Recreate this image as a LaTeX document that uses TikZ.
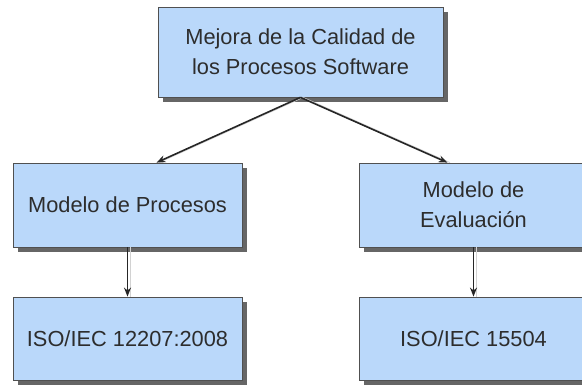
\documentclass[tikz,border=0pt]{standalone}
\usepackage{fontspec}
\setmainfont{Liberation Sans}
\usetikzlibrary{shadows,arrows.meta}
\definecolor{boxfill}{RGB}{186,216,250}
\definecolor{boxline}{RGB}{80,80,80}
\definecolor{txt}{RGB}{45,45,45}
\tikzset{
  procbox/.style={draw=boxline, line width=0.8pt, fill=boxfill, minimum width=#1, inner sep=0pt,
    align=center, text=txt, font=\fontsize{21.8}{30}\selectfont,
    drop shadow={shadow xshift=5pt, shadow yshift=-5pt, fill=black, opacity=0.6}},
  conn/.style={-{Stealth[length=9pt,width=7pt]}, line width=1.6pt, draw=black!85,
    preaction={draw=gray!35, line width=0.8pt, -, transform canvas={shift={(2.5pt,0pt)}}}}
}
\begin{document}
\begin{tikzpicture}[x=1pt,y=1pt]
\useasboundingbox (0,0) rectangle (582,385);
\node[procbox=285pt, minimum height=90pt] (top) at (300.5,333) {Mejora de la Calidad de\\los Procesos Software};
\node[procbox=229pt, minimum height=84pt] (lm) at (127.5,180) {Modelo de Procesos};
\node[procbox=229pt, minimum height=83pt] (lb) at (127.5,46.5) {ISO/IEC 12207:2008};
\node[procbox=229pt, minimum height=84pt] (rm) at (473.5,180) {Modelo de\\Evaluación};
\node[procbox=229pt, minimum height=83pt] (rb) at (473.5,46.5) {ISO/IEC 15504};
\draw[conn] (top.south) -- ([xshift=29pt]lm.north);
\draw[conn] (top.south) -- ([xshift=-26pt]rm.north);
\draw[conn] (lm.south) -- (lb.north);
\draw[conn] (rm.south) -- (rb.north);
\end{tikzpicture}
\end{document}
